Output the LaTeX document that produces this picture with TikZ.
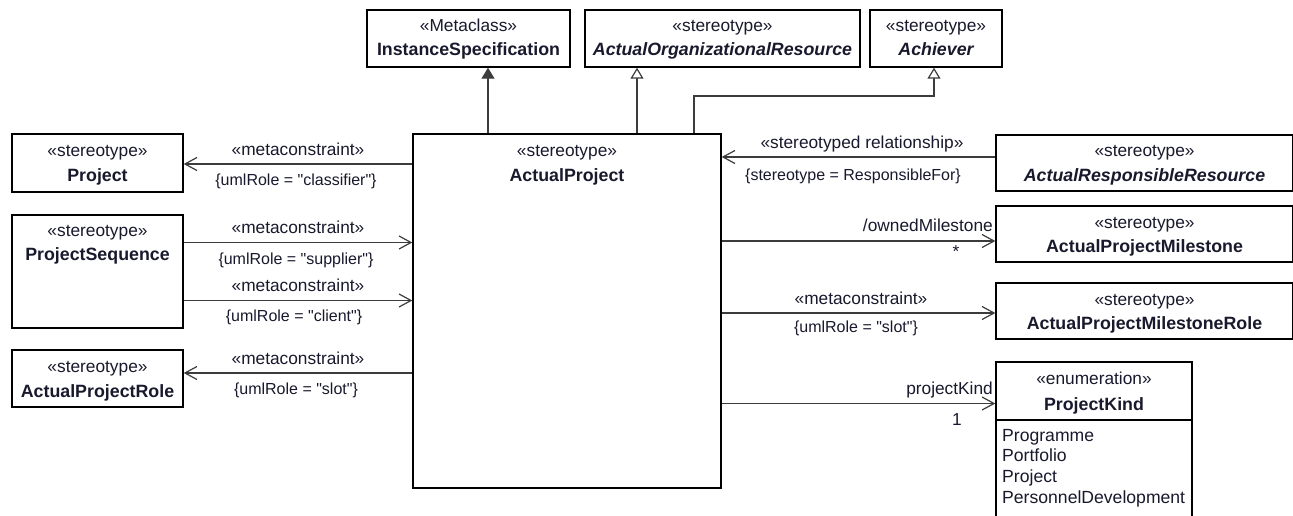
\documentclass[tikz,border=0pt]{standalone}
\usepackage{fontspec}
\setmainfont{Liberation Sans}[Ligatures=TeXOff]
\usetikzlibrary{arrows.meta}
\definecolor{txt}{RGB}{25,25,45}
\definecolor{ln}{RGB}{60,60,60}
\begin{document}
\begin{tikzpicture}[x=1pt,y=-1pt,
  box/.style={draw=black, line width=1.4pt, rectangle, inner sep=0pt, fill=white},
  st/.style={font=\fontsize{17.3}{20}\selectfont, text=txt, inner sep=0pt, anchor=base},
  nm/.style={font=\fontsize{17.8}{20}\selectfont\bfseries, text=txt, inner sep=0pt, anchor=base},
  nmi/.style={font=\fontsize{17.8}{20}\selectfont\bfseries\itshape, text=txt, inner sep=0pt, anchor=base},
  cl/.style={font=\fontsize{16}{19}\selectfont, text=txt, inner sep=0pt, anchor=base},
  attr/.style={font=\fontsize{17.6}{20}\selectfont, text=txt, inner sep=0pt, anchor=base west},
  conn/.style={draw=ln, line width=1.2pt},
  nav/.style={conn, -{Straight Barb[length=12pt,width=13pt]}},
  gen/.style={conn, -{Triangle[open,length=11pt,width=13pt,fill=white]}},
  genf/.style={conn, -{Triangle[length=11pt,width=13pt]}},
]
\useasboundingbox (0,0) rectangle (1293,516);
\clip (0,0) rectangle (1293,516);
\fill[white] (0,0) rectangle (1293,516);

% top boxes
\node[box, minimum width=203, minimum height=57] (is) at (468.5,38.5) {};
\node[st] (is1) at (468.5,32) {«Metaclass»};
\node[nm] (is2) at (468.5,56) {InstanceSpecification};

\node[box, minimum width=275, minimum height=57] (aor) at (722.5,38.5) {};
\node[st] (aor1) at (722.5,32) {«stereotype»};
\node[nmi] (aor2) at (722.5,56) {ActualOrganizationalResource};

\node[box, minimum width=132, minimum height=57] (ach) at (936,38.5) {};
\node[st] (ach1) at (936,32) {«stereotype»};
\node[nmi] (ach2) at (936,56) {Achiever};

% main box
\node[box, minimum width=308, minimum height=354] (main) at (567,311) {};
\node[st] (main1) at (567,157) {«stereotype»};
\node[nm] (main2) at (567,181) {ActualProject};

% left boxes
\node[box, minimum width=171, minimum height=58] (proj) at (97.5,163) {};
\node[st] (proj1) at (97.5,157) {«stereotype»};
\node[nm] (proj2) at (97.5,181) {Project};

\node[box, minimum width=171, minimum height=113] (ps) at (97.5,271.5) {};
\node[st] (ps1) at (97.5,236) {«stereotype»};
\node[nm] (ps2) at (97.5,260) {ProjectSequence};

\node[box, minimum width=171, minimum height=57] (apr) at (97.5,378.5) {};
\node[st] (apr1) at (97.5,372) {«stereotype»};
\node[nm] (apr2) at (97.5,397) {ActualProjectRole};

% right boxes
\node[box, minimum width=297, minimum height=56] (arr) at (1144.5,163) {};
\node[st] (arr1) at (1144.5,157) {«stereotype»};
\node[nmi] (arr2) at (1144.5,181) {ActualResponsibleResource};

\node[box, minimum width=297, minimum height=56] (apm) at (1144.5,234) {};
\node[st] (apm1) at (1144.5,228) {«stereotype»};
\node[nm] (apm2) at (1144.5,252) {ActualProjectMilestone};

\node[box, minimum width=297, minimum height=56] (apmr) at (1144.5,311) {};
\node[st] (apmr1) at (1144.5,305) {«stereotype»};
\node[nm] (apmr2) at (1144.5,329) {ActualProjectMilestoneRole};

\node[box, minimum width=196, minimum height=168] (pk) at (1094,446) {};
\draw[black, line width=1.4pt] (pk.west |- 0,420) -- (pk.east |- 0,420);
\node[st] (pk1) at (1094,384) {«enumeration»};
\node[nm] (pk2) at (1094,410) {ProjectKind};
\node[attr] (pk3) at (1002,441) {Programme};
\node[attr] (pk4) at (1002,461.5) {Portfolio};
\node[attr] (pk5) at (1002,482) {Project};
\node[attr] (pk6) at (1002,503) {PersonnelDevelopment};

% generalizations
\draw[genf] (main.north -| 488,0) -- (is.south -| 488,0);
\draw[gen] (main.north -| 637,0) -- (aor.south -| 637,0);
\coordinate (c1) at (694,96);
\coordinate (c2) at (934,96);
\draw[gen] (main.north -| 694,0) -- (c1) -- (c2) -- (ach.south -| 934,0);

% left connectors
\draw[nav] (main.west |- 0,164) -- (proj.east |- 0,164);
\node[st] (l1a) at (298,155) {«metaconstraint»};
\node[cl] (l1b) at (296,185) {\{umlRole = "classifier"\}};

\draw[nav] (ps.east |- 0,242.5) -- (main.west |- 0,242.5);
\node[st] (l2a) at (298,233.5) {«metaconstraint»};
\node[cl] (l2b) at (296,264) {\{umlRole = "supplier"\}};

\draw[nav] (ps.east |- 0,300.5) -- (main.west |- 0,300.5);
\node[st] (l3a) at (298,291.5) {«metaconstraint»};
\node[cl] (l3b) at (294,321) {\{umlRole = "client"\}};

\draw[nav] (main.west |- 0,373) -- (apr.east |- 0,373);
\node[st] (l4a) at (298,364) {«metaconstraint»};
\node[cl] (l4b) at (296,394) {\{umlRole = "slot"\}};

% right connectors
\draw[nav] (arr.west |- 0,157) -- (main.east |- 0,157);
\node[st] (r1a) at (862,148.5) {«stereotyped relationship»};
\node[cl] (r1b) at (853,180) {\{stereotype = ResponsibleFor\}};

\draw[nav] (main.east |- 0,241) -- (apm.west |- 0,241);
\node[st, anchor=base east] (r2a) at (993,231) {/ownedMilestone};
\node[st] (r2b) at (956,257) {*};

\draw[nav] (main.east |- 0,313) -- (apmr.west |- 0,313);
\node[st] (r3a) at (861,304) {«metaconstraint»};
\node[cl] (r3b) at (856,332) {\{umlRole = "slot"\}};

\draw[nav] (main.east |- 0,403.5) -- (pk.west |- 0,403.5);
\node[st, anchor=base east] (r4a) at (993,394.5) {projectKind};
\node[st] (r4b) at (957,425) {1};
\end{tikzpicture}
\end{document}
